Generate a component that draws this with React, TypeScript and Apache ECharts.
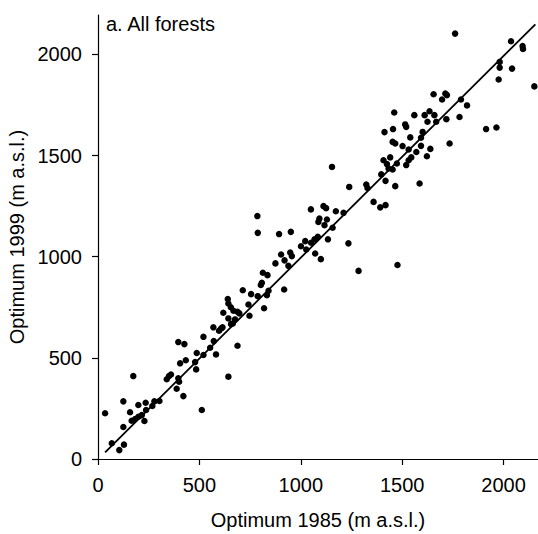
import React, { useEffect, useRef } from "react";
import * as echarts from "echarts";

const optimum1985: number[] = [
  35, 125, 174, 158, 199, 235, 125, 68, 105, 128, 166, 183, 199, 216, 229, 237, 268, 278, 303, 339, 350, 360, 388, 396, 400, 421, 396, 426, 405, 433, 479, 484, 487, 520, 520, 512, 553, 571, 582, 569, 597, 614, 643, 688, 656, 607,
  788, 893, 951, 714, 755, 788, 640, 643, 655, 618, 668, 688, 697, 643, 676, 665, 747, 742, 819, 833, 841, 808, 803, 813, 836, 918, 875, 903, 920, 948, 956, 939, 1001, 1022, 1027, 1051, 1068, 1084, 1071, 1099, 1134, 1087, 1117, 786,
  1154, 1239, 1323, 1329, 1359, 1392, 1418, 1466, 1418, 1397, 1408, 1441, 1425, 1433, 1453, 1474, 1520, 1532, 1545, 1532, 1570, 1593, 1622, 1586, 1502, 1453, 1466, 1050, 1112, 1125, 1173, 1211, 1092, 1129, 1157, 1235, 1285, 1477,
  1655, 1713, 1721, 1697, 1790, 1820, 1461, 1560, 1611, 1635, 1659, 1625, 1668, 1718, 1783, 1515, 1520, 1455, 1413, 1601, 1540, 1593, 1639, 1734, 1914, 1965, 1976, 1981, 1981, 2042,
  1761, 2037, 2094, 2096, 2152,
];

const optimum1999: number[] = [
  226, 285, 410, 231, 267, 278, 158, 78, 44, 71, 189, 198, 209, 217, 188, 242, 262, 285, 287, 394, 410, 418, 347, 399, 382, 311, 578, 568, 473, 488, 479, 443, 524, 604, 514, 242, 550, 583, 517, 651, 634, 651, 407, 560, 667, 645,
  1118, 1112, 1123, 834, 815, 805, 791, 769, 750, 723, 733, 728, 720, 695, 690, 670, 708, 764, 745, 810, 832, 871, 860, 921, 909, 838, 967, 1011, 982, 1021, 1003, 955, 1052, 1077, 1036, 1069, 1086, 1098, 1016, 988, 1086, 1172, 1156, 1201,
  1444, 1345, 1357, 1340, 1271, 1244, 1255, 1349, 1375, 1407, 1477, 1491, 1458, 1436, 1431, 1461, 1453, 1477, 1491, 1530, 1518, 1548, 1497, 1362, 1547, 1568, 1560, 1234, 1250, 1240, 1225, 1217, 1189, 1184, 1143, 1066, 930, 959,
  1803, 1807, 1799, 1777, 1777, 1748, 1713, 1700, 1700, 1719, 1700, 1667, 1667, 1680, 1691, 1654, 1642, 1631, 1616, 1617, 1590, 1588, 1533, 1560, 1631, 1639, 1876, 1935, 1963, 1930,
  2103, 2065, 2041, 2027, 1842,
];

const fitLineX: number[] = [35, 2157];
const fitLineY: number[] = [33, 2149];

const tickValues: number[] = [0, 500, 1000, 1500, 2000];

const panelLabel = "a. All forests";
const xName = "Optimum 1985 (m a.s.l.)";
const yName = "Optimum 1999 (m a.s.l.)";

const FONT = "'Liberation Sans', Arial, sans-serif";

export default function App() {
  const ref = useRef<HTMLDivElement>(null);

  useEffect(() => {
    if (!ref.current) return;
    const chart = echarts.init(ref.current, undefined, { renderer: "svg" });
    const points = optimum1985.map((x, i) => [x, optimum1999[i]]);
    const line = fitLineX.map((x, i) => [x, fitLineY[i]]);

    const labelCommon = {
      fontSize: 20,
      color: "#000",
      fontFamily: FONT,
      margin: 16,
      customValues: tickValues,
      formatter: (v: number) => String(v),
    };

    const axisCommon = {
      type: "value" as const,
      min: 0,
      interval: 500,
      nameLocation: "middle" as const,
      nameTextStyle: { fontSize: 20, color: "#000", fontFamily: FONT },
      axisLine: { show: true, lineStyle: { color: "#000", width: 1.2 } },
      axisTick: {
        show: true,
        inside: false,
        length: 6,
        lineStyle: { color: "#000", width: 1.2 },
        customValues: tickValues,
      },
      splitLine: { show: false },
      axisLabel: labelCommon,
    };

    chart.setOption({
      animation: false,
      backgroundColor: "#fff",
      grid: {
        left: 98,
        right: 0,
        top: 15,
        bottom: 75,
        containLabel: false,
        outerBoundsMode: "none",
      },
      xAxis: {
        ...axisCommon,
        max: 2170,
        name: xName,
        nameGap: 51,
      },
      yAxis: {
        ...axisCommon,
        max: 2195,
        name: yName,
        nameGap: 64,
        nameRotate: 90,
      },
      graphic: [
        {
          type: "text",
          left: 106,
          top: 14,
          style: { text: panelLabel, fontSize: 20, fill: "#000", fontFamily: FONT },
        },
      ],
      series: [
        {
          type: "line",
          data: line,
          symbol: "none",
          lineStyle: { color: "#000", width: 1.8 },
          silent: true,
          z: 2,
        },
        {
          type: "scatter",
          data: points,
          symbol: "circle",
          symbolSize: 6.5,
          itemStyle: { color: "#000", opacity: 1 },
          z: 3,
        },
      ],
    });
    return () => chart.dispose();
  }, []);

  return (
    <div
      ref={ref}
      style={{ position: "fixed", left: 0, top: 0, width: 538, height: 534 }}
    />
  );
}
